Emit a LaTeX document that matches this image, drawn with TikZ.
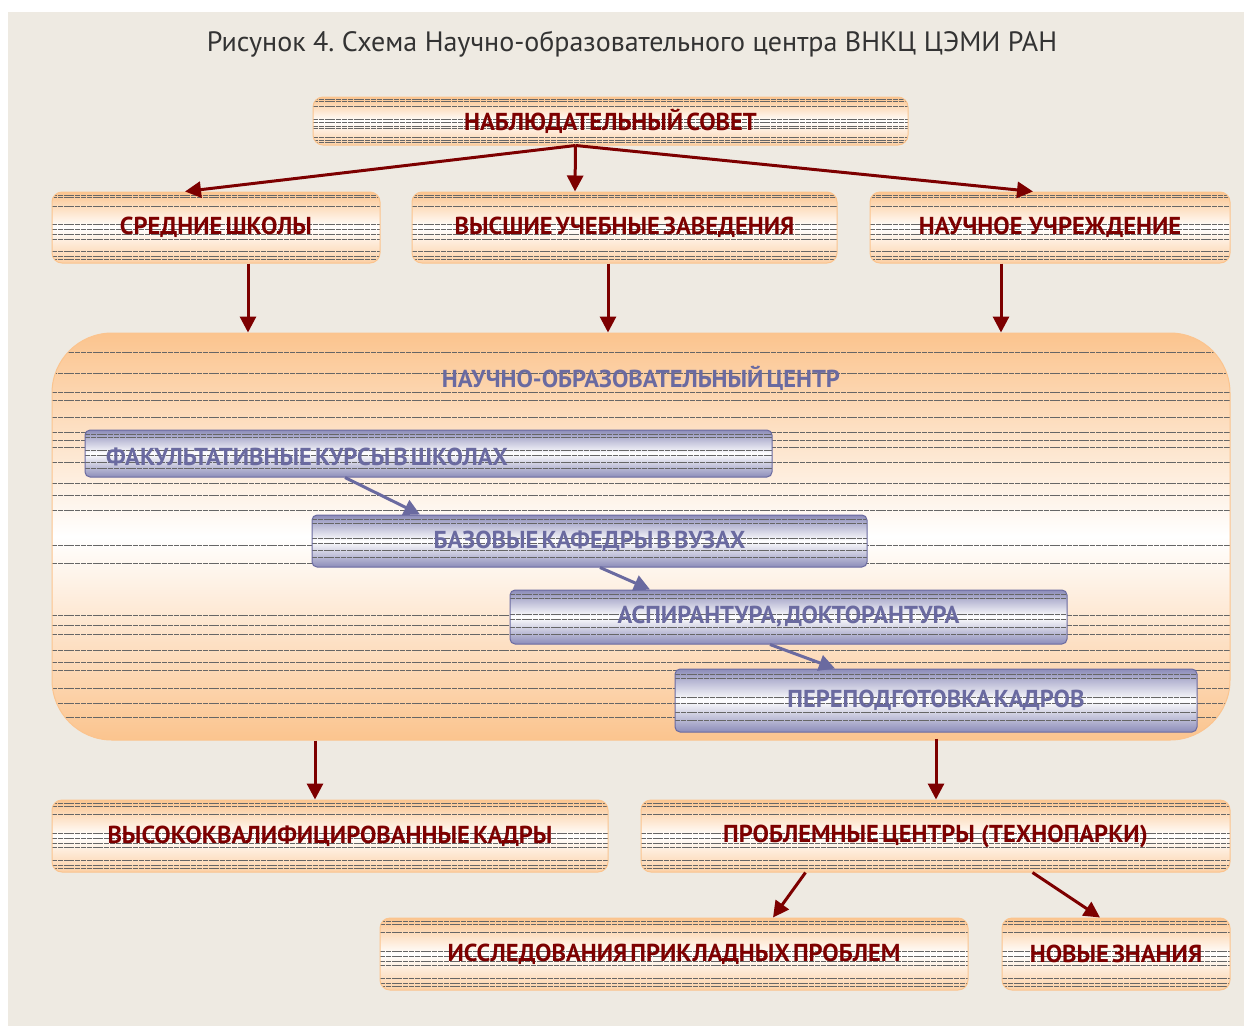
\documentclass[tikz,border=0pt]{standalone}
\usepackage{fontspec}
\setmainfont{PT Sans}
\newfontfamily\labfont[WordSpace=0.5]{PT Sans}
\usetikzlibrary{arrows.meta,calc}
\frenchspacing
\definecolor{bg}{RGB}{238,234,226}
\definecolor{dred}{RGB}{125,0,0}
\definecolor{orng}{RGB}{251,196,142}
\definecolor{blu}{RGB}{106,106,160}
\definecolor{blul}{RGB}{140,140,185}
\tikzset{
  stripe/.style={draw=black!60, line width=0.4pt, dash pattern=on 5pt off 0.8pt},
  stripes/.style={path picture={
    \foreach \f in {#1}
      \draw[stripe] ($(path picture bounding box.north west)!\f!(path picture bounding box.south west)$)
        -- ($(path picture bounding box.north east)!\f!(path picture bounding box.south east)$);}},
  labf/.style={font=\labfont\bfseries\fontsize{24.5}{27}\selectfont},
  obox/.style={draw=orng, line width=1pt, rounded corners=10pt,
    top color=orng, bottom color=orng!80, middle color=white,
    minimum height=#1, inner sep=0pt, labf, text=dred,
    stripes={0.04,0.08,0.2,0.46,0.53,0.6,0.66,0.84,0.9,0.95}},
  bbox/.style={draw=blu, line width=1pt, rounded corners=5pt,
    top color=blul, bottom color=blul, middle color=white,
    minimum height=#1, inner sep=0pt, labf, text=blu,
    stripes={0.08,0.15,0.44,0.54,0.68,0.82}},
  rarr/.style={draw=dred, line width=3pt, -{Triangle[length=16pt,width=16pt]}},
  barr/.style={draw=blu, line width=3pt, -{Triangle[length=16pt,width=16pt]}},
}
\begin{document}
\begin{tikzpicture}[x=1pt,y=-1pt]
\useasboundingbox (0,0) rectangle (1244,1026);
\fill[white] (0,0) rectangle (1244,1026);
\fill[bg] (8,12) rectangle (1244,1026);
\node[font=\fontsize{28}{32}\selectfont, text=black!80] (title) at (632,44) {Рисунок 4. Схема Научно-образовательного центра ВНКЦ ЦЭМИ РАН};
% top
\node[obox=48pt, minimum width=595pt] (council) at (610.5,121) {НАБЛЮДАТЕЛЬНЫЙ СОВЕТ};
\node[obox=71pt, minimum width=328pt] (school) at (216,227.5) {СРЕДНИЕ ШКОЛЫ};
\node[obox=71pt, minimum width=425pt] (vuz) at (624.5,227.5) {ВЫСШИЕ УЧЕБНЫЕ ЗАВЕДЕНИЯ};
\node[obox=71pt, minimum width=360pt] (inst) at (1050,227.5) {НАУЧНОЕ \ УЧРЕЖДЕНИЕ};
% big centre
\node[draw=orng, line width=1pt, rounded corners=60pt, minimum width=1178pt, minimum height=407pt,
  top color=orng, bottom color=orng, middle color=white,
  stripes={0.047,0.098,0.145,0.165,0.206,0.243,0.263,0.280,0.317,0.369,0.398,0.435,0.521,0.565,0.693,0.717,0.739,0.779,0.808,0.828,0.872,0.909,0.943}] (big) at (641,536.5) {};
\node[labf, text=blu] (bigtitle) at (641,378) {НАУЧНО-ОБРАЗОВАТЕЛЬНЫЙ ЦЕНТР};
\node[bbox=47pt, minimum width=687pt] (fac) at (428.5,453.5) {};
\node[labf, text=blu, anchor=west, inner sep=0pt] (factext) at (106,457) {ФАКУЛЬТАТИВНЫЕ КУРСЫ В ШКОЛАХ};
\node[bbox=52pt, minimum width=555pt] (baz) at (589.5,541) {БАЗОВЫЕ КАФЕДРЫ В ВУЗАХ};
\node[bbox=54pt, minimum width=557pt] (asp) at (788.5,617) {АСПИРАНТУРА, ДОКТОРАНТУРА};
\node[bbox=63pt, minimum width=522pt] (per) at (936,700.5) {ПЕРЕПОДГОТОВКА КАДРОВ};
% bottom
\node[obox=72pt, minimum width=556pt] (kadry) at (330,836) {ВЫСОКОКВАЛИФИЦИРОВАННЫЕ КАДРЫ};
\node[obox=72pt, minimum width=589pt] (probl) at (935.5,836) {ПРОБЛЕМНЫЕ ЦЕНТРЫ \ (ТЕХНОПАРКИ)};
\node[obox=72pt, minimum width=588pt] (issl) at (674,954) {ИССЛЕДОВАНИЯ ПРИКЛАДНЫХ ПРОБЛЕМ};
\node[obox=72pt, minimum width=228pt] (novye) at (1116,954) {НОВЫЕ ЗНАНИЯ};
% arrows
\coordinate (cs) at ([xshift=-35pt]council.south);
\draw[rarr] (cs) -- ([xshift=-31pt]school.north);
\draw[rarr] (cs) -- ([xshift=-49.5pt]vuz.north);
\draw[rarr] (cs) -- ([xshift=-17pt]inst.north);
\draw[rarr] ([xshift=32pt]school.south) -- ([xshift=-393pt]big.north);
\draw[rarr] ([xshift=-16.5pt]vuz.south) -- ([xshift=-33pt]big.north);
\draw[rarr] ([xshift=-49pt]inst.south) -- ([xshift=360pt]big.north);
\draw[barr] ([xshift=-83.5pt]fac.south) -- ([xshift=-169.5pt]baz.north);
\draw[barr] ([xshift=10.5pt]baz.south) -- ([xshift=-138.5pt]asp.north);
\draw[barr] ([xshift=-18.5pt]asp.south) -- ([xshift=-101pt]per.north);
\draw[rarr] ([xshift=-326pt]big.south) -- ([xshift=-15pt]kadry.north);
\draw[rarr] ([xshift=295pt,yshift=2pt]big.south) -- ([xshift=0.5pt]probl.north);
\draw[rarr] ([xshift=-130pt]probl.south) -- ([xshift=99pt]issl.north);
\draw[rarr] ([xshift=97pt]probl.south) -- ([xshift=-16pt]novye.north);
\end{tikzpicture}
\end{document}
